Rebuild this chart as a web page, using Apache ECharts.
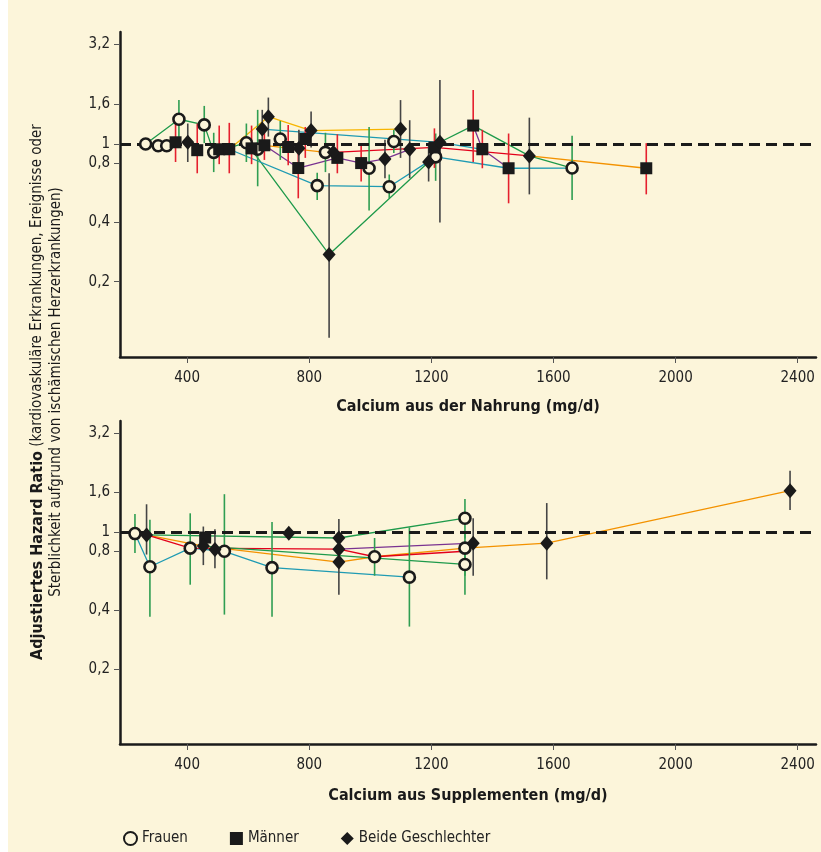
<!DOCTYPE html>
<html>
<head>
<meta charset="utf-8">
<script src="https://cdn.jsdelivr.net/npm/echarts@6/dist/echarts.min.js"></script>
<style>
  html, body { margin: 0; padding: 0; background: #ffffff; }
  #chart { width: 821px; height: 852px; }
</style>
</head>
<body>
<div id="chart"></div>
<script>
  // tick values
  var xTicks = [400, 800, 1200, 1600, 2000, 2400];
  var yTicks = [0.2, 0.4, 0.8, 1, 1.6, 3.2];

  // [calcium, HR, lower CI, upper CI] -- upper panel (Nahrung)
  var topFrauen = [
    [264, 1.0, null, null], [305, 0.98, null, null], [333, 0.98, null, null],
    [373, 1.335, 0.98, 1.67], [456, 1.25, 1.01, 1.56], [487, 0.907, 0.72, 1.14],
    [594, 1.015, 0.81, 1.27], [631, 0.94, 0.61, 1.49], [705, 1.06, 0.83, 1.31],
    [826, 0.615, 0.52, 0.715], [853, 0.907, 0.72, 1.14], [996, 0.753, 0.46, 1.22],
    [1062, 0.607, 0.53, 0.70], [1077, 1.03, 0.90, 1.18], [1214, 0.86, 0.65, 1.13],
    [1661, 0.755, 0.52, 1.10]
  ];
  var topMaenner = [
    [362, 1.02, 0.81, 1.40], [433, 0.93, 0.71, 1.27], [505, 0.94, 0.79, 1.24],
    [538, 0.94, 0.71, 1.28], [611, 0.95, 0.79, 1.24], [653, 0.985, 0.83, 1.24],
    [731, 0.965, 0.78, 1.25], [764, 0.755, 0.53, 0.97], [787, 1.06, 0.85, 1.22],
    [892, 0.85, 0.71, 1.12], [970, 0.80, 0.645, 1.01], [1210, 0.96, 0.756, 1.2],
    [1337, 1.24, 0.81, 1.88], [1367, 0.94, 0.753, 1.18], [1453, 0.753, 0.50, 1.13],
    [1904, 0.753, 0.555, 1.01]
  ];
  var topBeide = [
    [402, 1.02, 0.81, 1.27], [646, 1.19, 0.97, 1.49], [666, 1.376, 1.09, 1.72],
    [766, 0.95, 0.77, 1.18], [806, 1.17, 0.96, 1.46], [865, 0.275, 0.104, 0.71],
    [879, 0.907, null, null], [1048, 0.84, 0.67, 1.05], [1099, 1.19, 0.85, 1.67],
    [1129, 0.94, 0.67, 1.32], [1191, 0.81, 0.645, 1.01], [1228, 1.02, 0.40, 2.11],
    [1521, 0.87, 0.555, 1.36]
  ];

  // lower panel (Supplemente)
  var botFrauen = [
    [229, 0.985, 0.785, 1.24], [278, 0.667, 0.37, 1.16], [410, 0.83, 0.54, 1.25],
    [522, 0.80, 0.38, 1.565], [678, 0.66, 0.37, 1.13], [1014, 0.75, 0.60, 0.935],
    [1128, 0.59, 0.33, 1.06], [1310, 1.18, 0.93, 1.48], [1310, 0.83, 0.6, 1.0],
    [1310, 0.685, 0.48, 0.8]
  ];
  var botMaenner = [
    [459, 0.94, null, null]
  ];
  var botBeide = [
    [267, 0.97, 0.77, 1.39], [453, 0.85, 0.68, 1.07], [491, 0.817, 0.655, 1.035],
    [733, 0.99, null, null], [897, 0.935, 0.48, 1.17], [897, 0.82, null, null],
    [897, 0.705, null, null], [1337, 0.88, 0.60, 1.18], [1578, 0.88, 0.575, 1.41],
    [2375, 1.63, 1.30, 2.06]
  ];

  // study lines, upper panel
  var topGreen1 = [[264, 1.0], [373, 1.335], [456, 1.25], [487, 0.907], [594, 1.015]];
  var topGreen2 = [[594, 1.015], [865, 0.275], [1191, 0.81], [1228, 1.02], [1337, 1.24], [1521, 0.87], [1661, 0.755]];
  var topTeal1 = [[538, 0.94], [826, 0.615], [1062, 0.607], [1214, 0.86], [1453, 0.753], [1661, 0.755]];
  var topTeal2 = [[646, 1.19], [1228, 1.02], [1367, 0.94]];
  var topYellow = [[538, 0.94], [666, 1.376], [806, 1.17], [1099, 1.19]];
  var topOrange1 = [[653, 0.985], [853, 0.907]];
  var topOrange2 = [[1521, 0.87], [1904, 0.753]];
  var topRed = [[879, 0.907], [1210, 0.96], [1521, 0.87]];
  var topPurple1 = [[653, 0.985], [764, 0.755], [892, 0.85], [970, 0.80], [1048, 0.84], [1129, 0.94]];
  var topPurple2 = [[1337, 1.24], [1367, 0.94], [1453, 0.753]];

  // study lines, lower panel
  var botTeal = [[229, 0.985], [278, 0.667], [410, 0.83], [522, 0.80], [678, 0.66], [1128, 0.59]];
  var botOrange = [[267, 0.97], [453, 0.85], [897, 0.705], [1014, 0.75], [1310, 0.83], [1578, 0.88], [2375, 1.63]];
  var botRed = [[267, 0.97], [410, 0.83], [897, 0.82], [1014, 0.75], [1310, 0.8]];
  var botGreen1 = [[267, 0.97], [897, 0.935], [1310, 1.18]];
  var botGreen2 = [[453, 0.85], [1310, 0.685]];
  var botPurple = [[897, 0.82], [1337, 0.88]];

  var FONT = '"Liberation Sans Narrow", "DejaVu Sans Condensed", "Open Sans", sans-serif';
  var INK = '#1a1a1a';
  var BG = '#fcf5da';
  var C = {
    green: '#1e9a4b', teal: '#1f9bb3', yellow: '#f7b500', orange: '#f39200',
    red: '#e3001b', purple: '#7a3391', barGreen: '#2f9e52', barRed: '#e5202e', barGray: '#454545'
  };

  var chart = echarts.init(document.getElementById('chart'));

  function xAxis(grid, name, gap) {
    return {
      type: 'value', gridIndex: grid, min: 180, max: 2460,
      name: name, nameLocation: 'middle', nameGap: gap,
      nameTextStyle: { fontFamily: FONT, fontSize: 16, fontWeight: 'bold', color: INK },
      axisLine: { lineStyle: { color: INK, width: 2.5 } },
      axisTick: { customValues: xTicks, length: 6, lineStyle: { color: '#555', width: 1 } },
      axisLabel: {
        customValues: xTicks, fontFamily: FONT, fontSize: 15, color: '#222', margin: 14,
        formatter: function (v) { return String(v); }
      },
      splitLine: { show: false }
    };
  }

  function yAxis(grid) {
    return {
      type: 'log', logBase: 2, gridIndex: grid, min: 0.083, max: 3.7,
      axisLine: { show: true, lineStyle: { color: INK, width: 2.5 } },
      axisTick: { show: true, customValues: yTicks, length: 6, lineStyle: { color: '#555', width: 1 } },
      axisLabel: {
        customValues: yTicks, fontFamily: FONT, fontSize: 15, color: '#222', margin: 10,
        formatter: function (v) { return String(+v.toFixed(2)).replace('.', ','); }
      },
      splitLine: { show: false }
    };
  }

  function lineSeries(data, grid, color) {
    return {
      type: 'line', xAxisIndex: grid, yAxisIndex: grid, data: data,
      symbol: 'none', z: 2, silent: true,
      lineStyle: { color: color, width: 1.3 }
    };
  }

  function barSeries(data, grid, color) {
    return {
      type: 'custom', xAxisIndex: grid, yAxisIndex: grid, z: 4, silent: true,
      data: data.filter(function (d) { return d[2] != null; }),
      encode: { x: 0, y: 1 },
      renderItem: function (params, api) {
        var x = api.value(0);
        var p1 = api.coord([x, api.value(2)]);
        var p2 = api.coord([x, api.value(3)]);
        return {
          type: 'line',
          shape: { x1: p1[0], y1: p1[1], x2: p2[0], y2: p2[1] },
          style: { stroke: color, lineWidth: 1.6 }
        };
      }
    };
  }

  function markerSeries(name, data, grid, symbol, size, style) {
    return {
      name: name, type: 'scatter', xAxisIndex: grid, yAxisIndex: grid, z: 6,
      data: data.map(function (d) { return [d[0], d[1]]; }),
      symbol: symbol, symbolSize: size, itemStyle: style
    };
  }

  var frauenStyle = { color: BG, borderColor: INK, borderWidth: 2.6, opacity: 1 };
  var solidStyle = { color: INK, opacity: 1 };

  var dashLine = {
    type: 'line', xAxisIndex: 0, yAxisIndex: 0, data: [], z: 3, silent: true,
    markLine: {
      silent: true, symbol: 'none', label: { show: false },
      lineStyle: { color: INK, width: 3, type: [11, 6] },
      data: [{ yAxis: 1 }]
    }
  };
  var dashLine2 = JSON.parse(JSON.stringify(dashLine));
  dashLine2.xAxisIndex = 1; dashLine2.yAxisIndex = 1;

  chart.setOption({
    backgroundColor: BG,
    animation: false,
    textStyle: { fontFamily: FONT },
    grid: [
      { left: 120, right: 5, top: 32, height: 325 },
      { left: 120, right: 5, top: 421, height: 323 }
    ],
    xAxis: [
      xAxis(0, 'Calcium aus der Nahrung (mg/d)', 42),
      xAxis(1, 'Calcium aus Supplementen (mg/d)', 44)
    ],
    yAxis: [yAxis(0), yAxis(1)],
    legend: {
      left: 118, top: 826, itemGap: 42, itemWidth: 13, itemHeight: 13,
      textStyle: { fontFamily: FONT, fontSize: 15, color: '#222' },
      data: ['Frauen', 'Männer', 'Beide Geschlechter']
    },
    graphic: [
      { type: 'rect', left: 0, top: 0, shape: { width: 8, height: 852 }, style: { fill: '#ffffff' }, silent: true },
      {
        type: 'text', x: 47, y: 392, rotation: Math.PI / 2, silent: true,
        style: {
          text: '{b|Adjustiertes Hazard Ratio} (kardiovaskuläre Erkrankungen, Ereignisse oder\nSterblichkeit aufgrund von ischämischen Herzerkrankungen)',
          align: 'center', verticalAlign: 'middle',
          font: '15px ' + FONT, fill: INK, lineHeight: 19,
          rich: { b: { fontWeight: 'bold', fontSize: 16, fontFamily: FONT, fill: INK, lineHeight: 19 } }
        }
      }
    ],
    series: [
      lineSeries(topGreen1, 0, C.green),
      lineSeries(topGreen2, 0, C.green),
      lineSeries(topTeal1, 0, C.teal),
      lineSeries(topTeal2, 0, C.teal),
      lineSeries(topYellow, 0, C.yellow),
      lineSeries(topOrange1, 0, C.orange),
      lineSeries(topOrange2, 0, C.orange),
      lineSeries(topRed, 0, C.red),
      lineSeries(topPurple1, 0, C.purple),
      lineSeries(topPurple2, 0, C.purple),
      lineSeries(botTeal, 1, C.teal),
      lineSeries(botOrange, 1, C.orange),
      lineSeries(botRed, 1, C.red),
      lineSeries(botGreen1, 1, C.green),
      lineSeries(botGreen2, 1, C.green),
      lineSeries(botPurple, 1, C.purple),
      dashLine, dashLine2,
      barSeries(topFrauen, 0, C.barGreen),
      barSeries(topMaenner, 0, C.barRed),
      barSeries(topBeide, 0, C.barGray),
      barSeries(botFrauen, 1, C.barGreen),
      barSeries(botMaenner, 1, C.barRed),
      barSeries(botBeide, 1, C.barGray),
      markerSeries('Frauen', topFrauen, 0, 'circle', 11, frauenStyle),
      markerSeries('Männer', topMaenner, 0, 'rect', 12, solidStyle),
      markerSeries('Beide Geschlechter', topBeide, 0, 'diamond', [13, 15], solidStyle),
      markerSeries('Frauen', botFrauen, 1, 'circle', 11, frauenStyle),
      markerSeries('Männer', botMaenner, 1, 'rect', 12, solidStyle),
      markerSeries('Beide Geschlechter', botBeide, 1, 'diamond', [13, 15], solidStyle)
    ]
  });
</script>
</body>
</html>
